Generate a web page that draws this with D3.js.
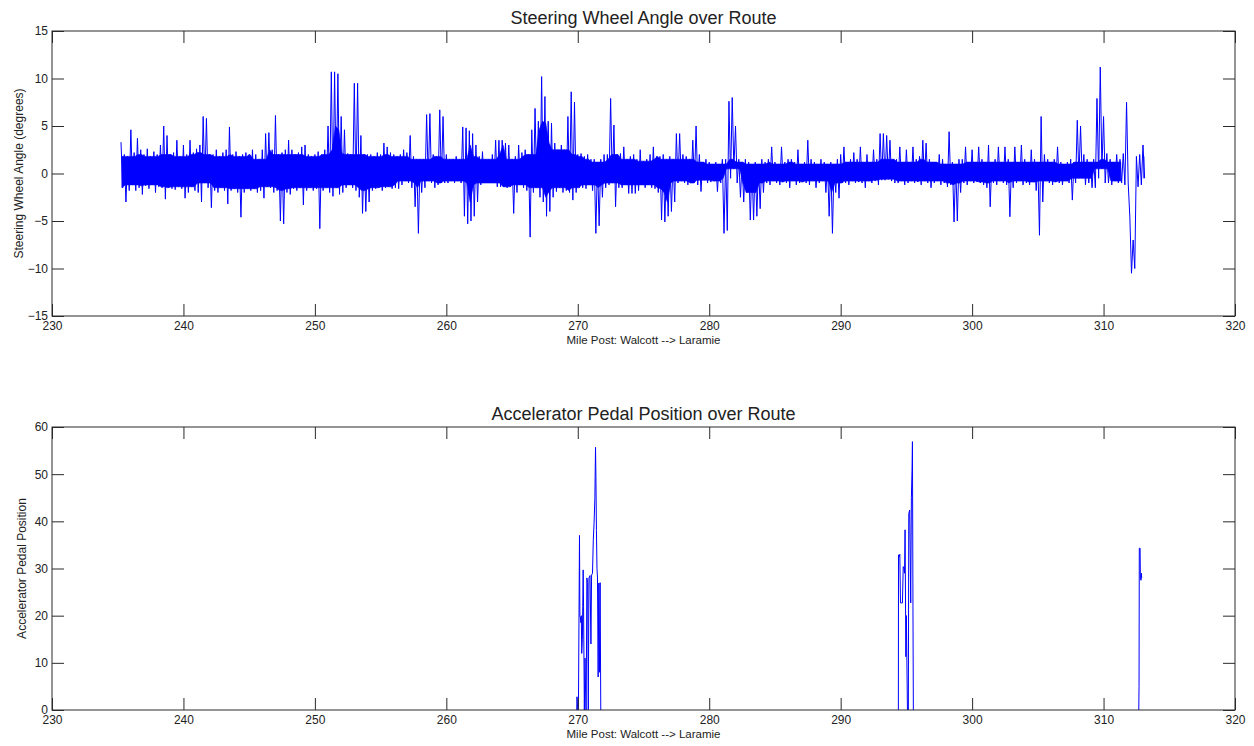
<!DOCTYPE html>
<html><head><meta charset="utf-8">
<script src="https://cdn.jsdelivr.net/npm/d3@7/dist/d3.min.js"></script>
<style>
html,body{margin:0;padding:0;background:#fff;}
text{font-family:"Liberation Sans",Arial,sans-serif;fill:#222;}
</style></head>
<body>
<svg id="chart" width="1254" height="746"></svg>
<script>
// ---------------- DATA ----------------
const xTicks = [230,240,250,260,270,280,290,300,310,320];
const steerTicks = [-15,-10,-5,0,5,10,15];
const pedalTicks = [0,10,20,30,40,50,60];

// Steering wheel angle: sampled every 0.25 mile from 235.25 to 313.0;
// upper excursion (hi) and lower excursion (lo, half a step later) read from picture
const steerStart = 235.25, steerStep = 0.25;
const steerHi = [
 3.3,2.0,1.8,4.6,  2.2,3.7,2.5,2.0,  2.6,1.8,2.3,2.0,  3.0,5.0,4.0,2.0,  2.2,3.5,1.8,3.0,   // 235-239
 2.0,3.5,2.2,2.6,  3.0,6.0,5.8,2.0,  2.0,2.5,1.8,2.2,  2.5,4.9,2.0,2.3,  1.8,2.0,2.2,2.0,   // 240-244
 2.5,2.0,1.5,2.5,  4.2,4.3,2.5,6.1,  2.0,2.2,2.5,3.5,  2.5,2.0,2.2,2.8,  3.0,2.0,1.8,2.0,   // 245-249
 2.3,2.0,2.5,5.0,  10.7,10.7,10.5,6.0, 4.6,2.1,2.0,9.5, 9.5,4.0,2.0,2.0, 2.0,1.8,2.2,2.0,   // 250-254
 3.2,2.8,2.2,2.0,  1.8,2.0,2.5,2.2,  4.0,1.8,1.5,1.5,  1.5,6.2,6.3,2.0,  1.8,6.7,6.0,2.0,   // 255-259
 1.5,1.5,1.8,1.5,  4.9,4.8,4.5,4.2,  3.0,1.8,2.3,1.5,  1.5,2.0,3.5,3.5,  3.5,3.2,3.0,1.5,   // 260-264
 1.8,3.0,2.2,2.5,  2.0,4.6,6.85,5.5, 10.2,8.1,5.5,5.3, 3.2,2.5,3.0,2.5,  6.0,8.6,7.5,2.0,   // 265-269
 2.1,1.8,2.0,1.5,  1.5,1.2,1.5,2.0,  2.0,7.9,5.1,2.0,  2.1,2.8,1.5,1.8,  2.0,1.5,2.5,1.3,   // 270-274
 1.5,2.0,2.8,1.8,  1.8,2.0,1.5,1.8,  1.5,4.2,4.2,2.0,  1.8,1.5,3.5,5.0,  2.0,1.2,1.5,1.2,   // 275-279
 1.0,1.2,1.0,1.5,  1.5,7.6,8.0,5.0,  1.5,1.2,1.5,1.2,  1.0,1.2,1.0,1.5,  1.2,1.5,2.8,1.2,   // 280-284
 1.0,2.8,1.2,1.5,  1.5,1.2,2.5,1.0,  1.2,3.5,1.5,1.2,  1.0,1.5,1.2,1.0,  1.2,1.0,1.5,2.0,   // 285-289
 2.8,1.2,1.5,2.2,  1.5,2.8,1.2,2.0,  1.2,2.5,1.5,4.2,  4.2,4.0,3.5,1.5,  1.5,2.8,1.2,2.5,   // 290-294
 1.2,2.8,1.5,1.8,  3.5,3.2,1.5,1.2,  1.2,2.0,1.5,1.0,  4.4,1.2,1.0,1.5,  1.5,2.8,1.2,2.5,   // 295-299
 1.2,2.8,1.5,1.2,  3.0,1.2,1.5,2.8,  1.2,2.8,1.5,1.2,  2.8,1.2,3.0,1.5,  1.2,2.5,1.5,1.2,   // 300-304
 6.0,2.0,1.5,1.2,  1.5,2.8,1.2,1.0,  1.2,1.5,1.2,5.6,  5.0,2.0,1.5,1.2,  1.5,7.9,11.2,6.0,  // 305-309
 2.1,1.5,1.2,2.0,  1.5,2.1,7.5,-4.6, -7.0,1.8,2.0,3.0                                      // 310-312
];
const steerLo = [
 -1.5,-3.0,-1.8,-1.2, -1.8,-1.5,-2.2,-1.3, -1.6,-1.2,-2.0,-1.4, -1.5,-2.7,-1.5,-1.6, -1.7,-1.4,-1.6,-2.6,
 -2.0,-1.4,-1.8,-2.0, -3.0,-1.0,-1.5,-3.6, -1.8,-2.0,-1.5,-1.8, -3.2,-1.8,-1.6,-2.0, -4.6,-2.0,-1.6,-1.8,
 -1.6,-2.0,-1.8,-2.6, -1.4,-1.5,-2.0,-1.8, -5.0,-5.3,-2.0,-2.2, -1.6,-1.8,-1.5,-3.3, -1.8,-1.5,-1.8,-1.6,
 -5.8,-1.8,-1.5,-2.0, -2.4,-1.5,-2.2,-2.0, -1.5,-1.2,-1.5,-1.8, -2.5,-4.2,-4.0,-3.0, -1.8,-1.6,-1.5,-1.8,
 -1.5,-1.4,-1.6,-1.5, -1.6,-1.2,-0.8,-1.0, -1.5,-3.5,-6.3,-2.0, -1.5,-0.8,-1.0,-1.5, -1.2,-1.0,-1.0,-1.0,
 -0.8,-1.0,-0.8,-1.0, -4.5,-5.3,-5.0,-4.5, -3.0,-1.2,-1.0,-1.0, -1.0,-1.0,-1.4,-1.4, -1.4,-1.5,-1.4,-4.2,
 -2.0,-1.2,-1.5,-1.8, -6.7,-2.0,-1.5,-2.5, -3.0,-4.5,-4.0,-2.5, -1.9,-1.5,-2.0,-1.8, -2.0,-2.8,-2.0,-1.5,
 -1.5,-1.6,-1.2,-1.8, -6.3,-5.5,-2.5,-1.5, -1.2,-1.0,-3.5,-1.5, -1.5,-1.2,-2.1,-2.1, -2.1,-1.8,-1.2,-1.5,
 -1.2,-1.5,-1.6,-2.0, -4.9,-5.1,-4.5,-4.0, -3.0,-1.0,-0.8,-1.0, -1.2,-1.0,-1.0,-1.2, -1.9,-0.7,-1.0,-0.9,
 -0.8,-1.9,-1.0,-6.3, -6.0,-0.5,0.5,-1.0, -2.5,-3.0,-2.0,-4.9, -4.9,-4.5,-3.7,-2.0, -1.0,-1.2,-0.8,-1.0,
 -1.2,-0.9,-1.0,-1.5, -0.8,-1.2,-1.0,-0.9, -1.0,-1.2,-0.8,-1.5, -1.0,-0.8,-2.0,-4.5, -6.3,-2.0,-2.6,-1.0,
 -1.0,-1.2,-0.8,-1.0, -0.9,-1.0,-1.5,-0.8, -1.0,-0.8,-1.2,-0.7, -0.7,-0.6,-0.8,-1.0, -1.0,-0.8,-1.2,-1.0,
 -0.8,-1.0,-0.9,-1.2, -0.8,-1.0,-1.5,-1.0, -0.8,-1.2,-1.0,-1.4, -1.2,-5.1,-5.0,-2.0, -1.0,-1.2,-0.8,-1.0,
 -0.9,-1.0,-1.2,-1.5, -3.5,-1.0,-1.2,-0.8, -1.0,-1.2,-4.55,-1.5, -1.0,-0.8,-1.2,-1.0, -1.2,-0.9,-1.8,-6.5,
 -3.0,-0.8,-1.0,-1.2, -0.9,-1.0,-1.2,-0.8, -1.0,-2.8,-1.0,-0.5, -0.5,-1.2,-1.0,-1.5, -1.5,-0.5,0.5,-1.0,
 -1.0,-1.2,-0.8,-1.0, -1.0,-1.2,-1.0,-10.5, -10.0,-1.4,-1.2,-0.5
];

// Accelerator pedal position: three bursts (mile, value)
const pedalMile1 = [269.92,269.94,270.0,270.05,270.13,270.16,270.2,270.24,270.27,270.3,270.35,270.41,270.44,270.5,270.55,270.62,270.64,270.69,270.75,270.8,270.85,270.93,271.0,271.05,271.12,271.18,271.24,271.3,271.35,271.38,271.42,271.46,271.5,271.55,271.6,271.65,271.7,271.75,271.78];
const pedalVal1  = [0,2.8,0,0,37,20,19.5,18.5,20,12,15,29.7,22,0,11,0,0,28,27,0,28,28.5,14,28.6,29,36,39.6,45,55.7,49.5,38,30,28,7,26.9,8,27,0,0];
const pedalMile2 = [294.39,294.4,294.45,294.5,294.55,294.6,294.7,294.76,294.82,294.86,294.9,294.96,295.0,295.08,295.15,295.18,295.25,295.33,295.38,295.43,295.46,295.5,295.53];
const pedalVal2  = [0,32.9,32.5,33,22.7,22.7,22.7,30.4,30,29,38.2,11.3,20,0,0,41.6,42.4,22.7,45,50.9,56.9,22,0];
const pedalMile3 = [312.68,312.7,312.72,312.78,312.8,312.85,312.88,312.9];
const pedalVal3  = [0,5,34.3,34.3,28,27.5,29,28];

// ---------------- LAYOUT ----------------
const svg = d3.select("#chart");
const L = 52, R = 1235;
const panels = [
  {top:31, bottom:316, domain:[-15,15], ticks:steerTicks,
   title:"Steering Wheel Angle over Route", ylabel:"Steering Wheel Angle (degrees)", ylabX:19},
  {top:427, bottom:710, domain:[0,60], ticks:pedalTicks,
   title:"Accelerator Pedal Position over Route", ylabel:"Accelerator Pedal Position", ylabX:22}
];
const x = d3.scaleLinear().domain([230,320]).range([L,R]);
const axisColor = "#2a2a2a";
const TICK = 12;
const BLUE = "#0000ff";

panels.forEach((p,i) => {
  const y = d3.scaleLinear().domain(p.domain).range([p.bottom,p.top]);
  p.y = y;
  const clipId = "clip"+i;
  svg.append("clipPath").attr("id",clipId).append("rect")
    .attr("x",L).attr("y",p.top).attr("width",R-L).attr("height",p.bottom-p.top);
  p.plot = svg.append("g").attr("clip-path",`url(#${clipId})`);

  const styleAx = sel => { sel.select(".domain").remove();
    sel.selectAll(".tick line").attr("stroke",axisColor);
    sel.selectAll(".tick text").style("font-family","'Liberation Sans',Arial,sans-serif")
       .style("font-size","12px").attr("fill","#222"); };
  p.axG = svg.append("g");
  p.axG.append("g").attr("transform",`translate(0,${p.bottom})`)
    .call(d3.axisBottom(x).tickValues(xTicks).tickSize(-TICK).tickPadding(5).tickFormat(d3.format("d"))).call(styleAx);
  p.axG.append("g").attr("transform",`translate(0,${p.top})`)
    .call(d3.axisTop(x).tickValues(xTicks).tickSize(-TICK).tickFormat("")).call(styleAx);
  p.axG.append("g").attr("transform",`translate(${L},0)`)
    .call(d3.axisLeft(y).tickValues(p.ticks).tickSize(-TICK).tickPadding(4).tickFormat(d3.format("d"))).call(styleAx);
  p.axG.append("g").attr("transform",`translate(${R},0)`)
    .call(d3.axisRight(y).tickValues(p.ticks).tickSize(-TICK).tickFormat("")).call(styleAx);
  p.axG.append("rect").attr("x",L).attr("y",p.top).attr("width",R-L).attr("height",p.bottom-p.top)
    .attr("fill","none").attr("stroke",axisColor).attr("stroke-width",1);

  svg.append("text").attr("x",(L+R)/2).attr("y",p.top-7).attr("text-anchor","middle")
    .style("font-size","18px").attr("fill","#000").text(p.title);
  svg.append("text").attr("x",(L+R)/2).attr("y",p.bottom+28).attr("text-anchor","middle")
    .style("font-size","11.5px").text("Mile Post: Walcott --> Laramie");
  svg.append("text").attr("transform",`translate(${p.ylabX},${(p.top+p.bottom)/2}) rotate(-90)`)
    .attr("text-anchor","middle").attr("dy","0.35em").style("font-size","12px").text(p.ylabel);
});

// steering series
const steerPts = [];
steerHi.forEach((h,k) => {
  const m = steerStart + k*steerStep;
  steerPts.push([m,h]);
  steerPts.push([m+steerStep/2, steerLo[k]]);
});
// dense core: only excursions sustained over neighbouring samples are drawn solid
const n = steerHi.length;
const core = steerHi.map((h,k) => {
  const a = Math.max(0,k-2), b = Math.min(n-1,k+2);
  const hiC = d3.min(steerHi.slice(a,b+1)), loC = d3.max(steerLo.slice(a,b+1));
  return {m: steerStart + k*steerStep + steerStep/4, hi: hiC, lo: loC};
});
const y0 = panels[0].y;
panels[0].plot.append("path").datum(core)
  .attr("fill",BLUE).attr("stroke",BLUE).attr("stroke-width",0.6)
  .attr("d", d3.area().defined(d => d.hi > d.lo)
    .x(d=>x(d.m)).y0(d=>y0(d.lo)).y1(d=>y0(d.hi)));
panels[0].plot.append("path").datum(steerPts)
  .attr("fill","none").attr("stroke",BLUE).attr("stroke-width",1)
  .attr("d", d3.line().x(d=>x(d[0])).y(d=>y0(d[1])));

// pedal series
const y1 = panels[1].y;
[[pedalMile1,pedalVal1],[pedalMile2,pedalVal2],[pedalMile3,pedalVal3]].forEach(([ms,vs]) => {
  panels[1].plot.append("path").datum(ms.map((m,k)=>[m,vs[k]]))
    .attr("fill","none").attr("stroke",BLUE).attr("stroke-width",1)
    .attr("d", d3.line().x(d=>x(d[0])).y(d=>y1(d[1])));
});
panels.forEach(p => p.axG.raise());
</script>
</body></html>
